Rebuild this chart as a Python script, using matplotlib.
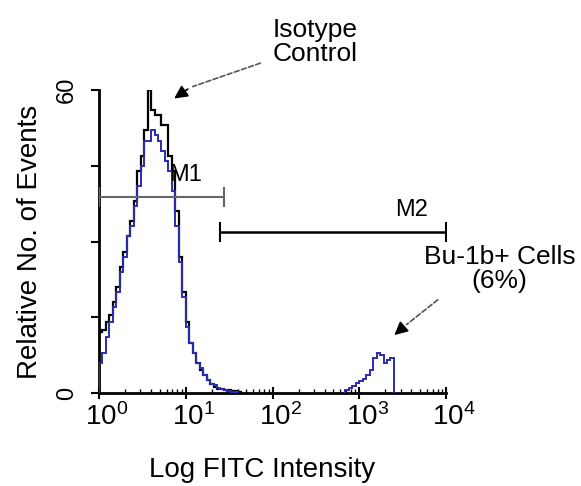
import matplotlib
matplotlib.use("Agg")
import matplotlib.pyplot as plt
import matplotlib.transforms as mtransforms
import numpy as np

plt.rcParams["font.family"] = ["Liberation Sans", "DejaVu Sans"]
plt.rcParams["mathtext.fontset"] = "custom"
plt.rcParams["mathtext.rm"] = "Liberation Sans"

# histogram channels: width of one channel in log10 units
chan_width = 0.04

# isotype control (black), channels starting at 10^0
iso_start = 0.0
iso_counts = [12, 12.5, 14, 15.5, 18, 21, 25, 28, 31, 34,
              38, 44, 47, 52, 60, 56, 55, 55, 53, 53,
              47, 44, 36, 27, 20, 14, 10, 8, 6, 4.5,
              3.5, 2.5, 1.8, 1.2, 0.8, 0.8, 0.5, 0.5, 0.4, 0.3, 0.2]

# Bu-1b stained cells (blue), low peak and M2 peak
bu_lo_start = 0.0
bu_lo_counts = [6, 8, 11, 14, 17, 20, 24, 27, 31, 33,
                37, 41, 45, 50, 50, 52, 51, 50, 48, 46,
                44, 40, 33, 26, 19, 13, 10, 8, 6, 5,
                3.5, 2.5, 1.8, 1.5, 1, 0.7, 0.5, 0.3, 0.2, 0.1]
bu_hi_start = 2.84
bu_hi_counts = [0.5, 1, 1.3, 2, 2.3, 2.8, 3.5, 4.5, 7, 8, 7.5, 6, 6.5, 7]

# marker gates
m1_range = (1, 27.6)
m1_level = 38.8
m2_range = (24.8, 1e4)
m2_level = 31.9

xticks = [1, 10, 100, 1000, 10000]
xtick_labels = [r"$\mathregular{10^{%d}}$" % i for i in range(5)]
yticks = [0, 15, 30, 45, 60]
ytick_labels = ["0", "", "", "", "60"]


def edges(start, counts):
    return 10 ** (start + chan_width * np.arange(len(counts) + 1))


def gate(ax, rng, level, color, lw):
    mid = np.sqrt(rng[0] * rng[1])
    ax.errorbar([mid], [level], xerr=[[mid - rng[0]], [rng[1] - mid]],
                fmt="none", ecolor=color, elinewidth=lw, capsize=7, capthick=1.5, zorder=5)


def arrow(ax, tail, knee, head):
    # dashed grey shaft, solid black head
    ax.annotate("", xy=knee, xytext=tail,
                arrowprops=dict(arrowstyle="-", color="#555555", lw=1.2, ls=(0, (3, 1.5))),
                annotation_clip=False)
    ax.annotate("", xy=head, xytext=knee,
                arrowprops=dict(arrowstyle="-|>", color="black", lw=1.2, mutation_scale=20),
                annotation_clip=False)


fig = plt.figure(figsize=(5.81, 4.86), dpi=100)
ax = fig.add_axes([99 / 581, 1 - 393 / 486, 347 / 581, 303 / 486])

ax.stairs(iso_counts, edges(iso_start, iso_counts), color="black", lw=1.6, zorder=3)
ax.stairs(bu_lo_counts, edges(bu_lo_start, bu_lo_counts), color="#2b2bb0", lw=1.4, zorder=4)
ax.stairs(bu_hi_counts, edges(bu_hi_start, bu_hi_counts), color="#2b2bb0", lw=1.4, zorder=4)

ax.set_xscale("log")
ax.set_xlim(1, 1e4)
ax.set_ylim(0, 60)

gate(ax, m1_range, m1_level, "#666666", 1.5)
gate(ax, m2_range, m2_level, "black", 1.8)
ax.text(10 ** 1.0, 43.2, "M1", fontsize=17, ha="center", va="center", zorder=6)
ax.text(10 ** 3.60, 36.2, "M2", fontsize=17, ha="center", va="center")

ax.text(10 ** 2.49, 69.6, "Isotype\nControl", fontsize=19, ha="center", va="center",
        linespacing=1.0, clip_on=False)
arrow(ax, (10 ** 1.89, 65.5), (10 ** 1.05, 60.5), (10 ** 0.84, 58.0))

ax.text(10 ** 4.62, 24.6, "Bu-1b+ Cells\n(6%)", fontsize=19, ha="center", va="center",
        linespacing=1.0, clip_on=False)
arrow(ax, (10 ** 3.93, 18.8), (10 ** 3.52, 13.2), (10 ** 3.38, 11.1))

# axes styling
for side in ("top", "right"):
    ax.spines[side].set_visible(False)
for side in ("left", "bottom"):
    ax.spines[side].set_linewidth(2)

ax.set_xticks(xticks, labels=xtick_labels, fontsize=20)
ax.set_yticks(yticks, labels=ytick_labels, fontsize=17, rotation=90, va="center")
ax.tick_params(axis="x", which="major", direction="inout", length=9, width=1.5, pad=3)
ax.tick_params(axis="x", which="minor", direction="in", length=3, width=1)
ax.tick_params(axis="y", which="major", direction="out", length=6, width=1.5, pad=9)

offset = mtransforms.ScaledTranslation(8 / 100, 0, fig.dpi_scale_trans)
for lab in ax.get_xticklabels():
    lab.set_transform(lab.get_transform() + offset)

ax.set_xlabel("Log FITC Intensity", fontsize=20)
ax.xaxis.set_label_coords(0.47, -0.21)
ax.set_ylabel("Relative No. of Events", fontsize=20)
ax.yaxis.set_label_coords(-0.16, 0.5)

fig.savefig("out.png", dpi=100)
